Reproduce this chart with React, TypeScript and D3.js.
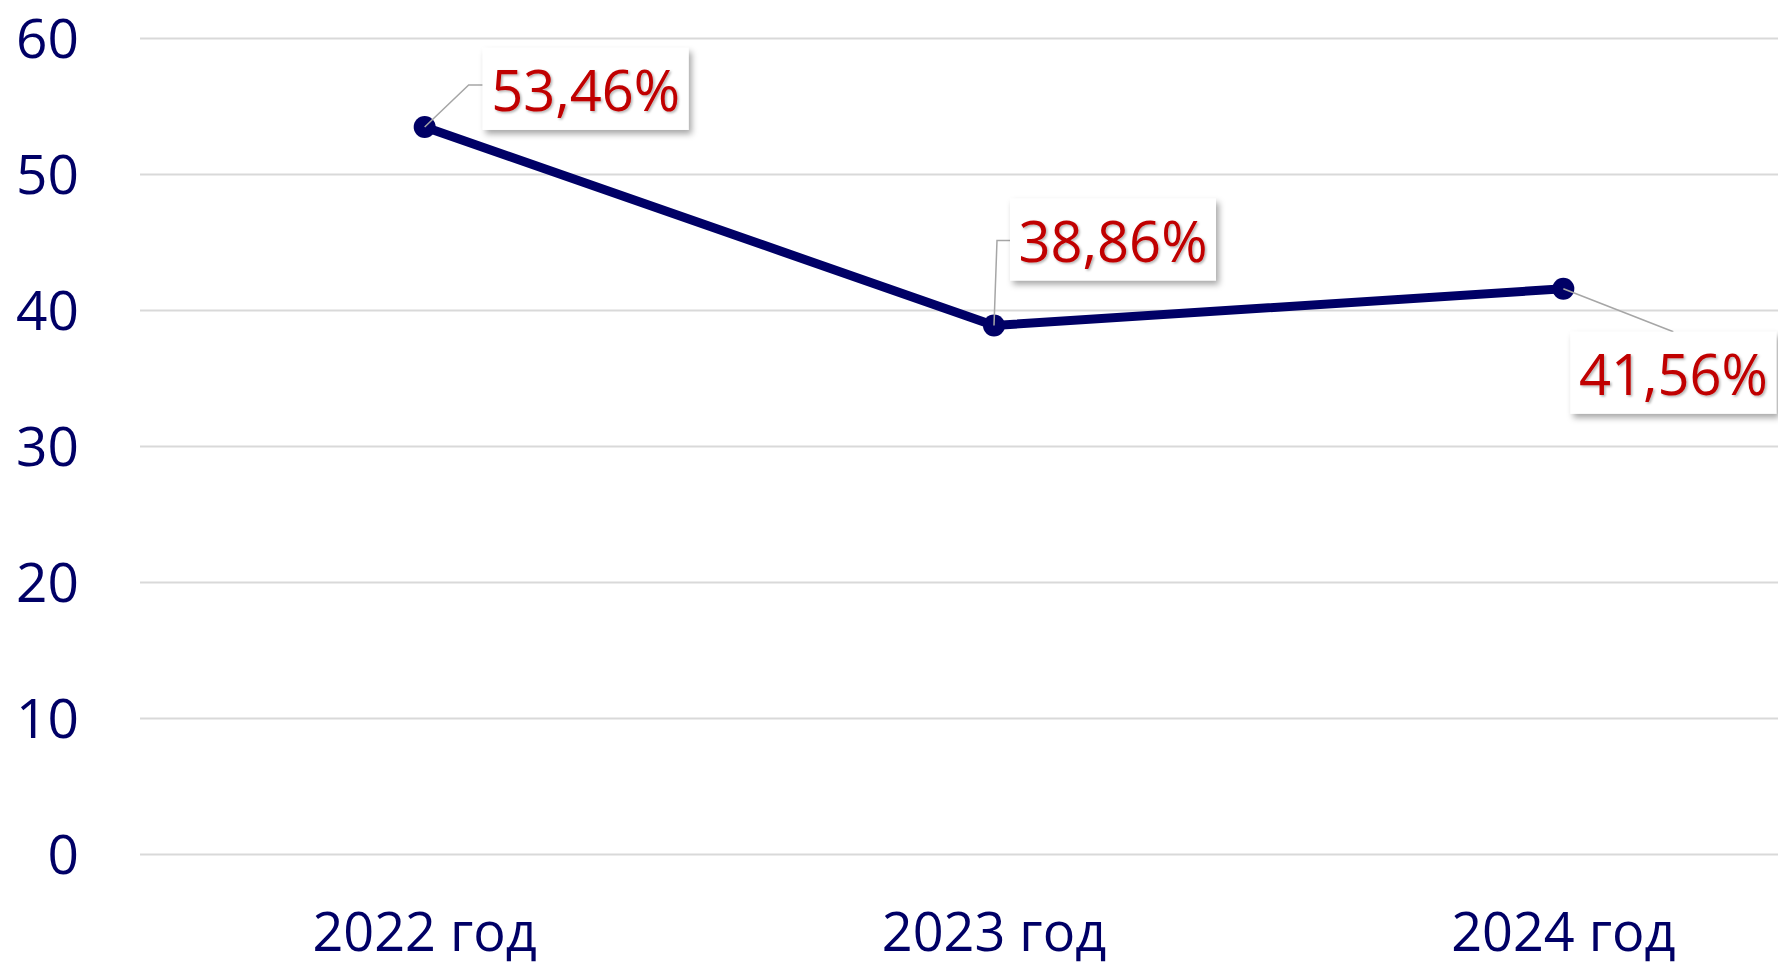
import React, { useRef, useEffect } from 'react'
import * as d3 from 'd3'

// chart data
const categories = ['2022 год', '2023 год', '2024 год']
const values = [53.46, 38.86, 41.56]
const valueLabels = ['53,46%', '38,86%', '41,56%']
const yTicks = [0, 10, 20, 30, 40, 50, 60]

// where each data label box sits relative to its point: [dx, dy]
const labelOffsets = [[58, -79], [16, -127], [7, 43]]

const W = 1778
const H = 968
const FONT = '"Open Sans", "Noto Sans", sans-serif'

export default function App() {
    const d3Container = useRef<SVGSVGElement>(null)

    useEffect(() => {
        const svg = d3.select(d3Container.current)

        // plot runs past the right edge of the picture, like the original
        const xscale = d3.scalePoint<string>()
            .domain(categories)
            .range([140, 1848])
            .padding(0.5)

        const yscale = d3.scaleLinear()
            .domain([0, 60])
            .range([854, 38])

        const defs = svg.append('defs')
        const shadow = defs.append('filter')
            .attr('id', 'boxShadow')
            .attr('x', '-20%').attr('y', '-20%')
            .attr('width', '140%').attr('height', '150%')
        shadow.append('feDropShadow')
            .attr('dx', 3).attr('dy', 4)
            .attr('stdDeviation', 3)
            .attr('flood-color', '#000')
            .attr('flood-opacity', 0.35)

        const textShadow = defs.append('filter').attr('id', 'textShadow')
        textShadow.append('feDropShadow')
            .attr('dx', 1.5).attr('dy', 1.5)
            .attr('stdDeviation', 1)
            .attr('flood-color', '#000')
            .attr('flood-opacity', 0.3)

        //gridlines + y labels
        const y_axis = d3.axisLeft(yscale)
            .tickValues(yTicks)
            .tickSize(-(W - 140))
            .tickPadding(61)
            .tickFormat(d3.format('d'))

        const gY = svg.append('g')
            .attr('transform', 'translate(140, 0)')
            .call(y_axis)

        gY.select('.domain').remove()
        gY.selectAll('.tick line')
            .attr('stroke', '#d9d9d9')
            .attr('stroke-width', 2)
        gY.selectAll('.tick text')
            .attr('fill', '#000066')
            .attr('font-family', FONT)
            .attr('font-size', 55)
            .attr('dy', '0.36em')

        //category labels
        svg.append('g')
            .selectAll('text')
            .data(categories)
            .enter()
            .append('text')
            .attr('x', d => xscale(d) as number)
            .attr('y', 951)
            .attr('text-anchor', 'middle')
            .attr('fill', '#000066')
            .attr('font-family', FONT)
            .attr('font-size', 54)
            .text(d => d)

        const points = categories.map((c, i) => ({
            x: xscale(c) as number,
            y: yscale(values[i]),
        }))

        //leader lines
        const leaders = [
            [[points[0].x, points[0].y], [points[0].x + 44, points[0].y - 42], [points[0].x + 58, points[0].y - 42]],
            [[points[1].x, points[1].y], [points[1].x + 3, points[1].y - 85], [points[1].x + 16, points[1].y - 85]],
            [[points[2].x, points[2].y], [points[2].x + 110, points[2].y + 43]],
        ]

        //series line
        const line = d3.line<{ x: number, y: number }>()
            .x(d => d.x)
            .y(d => d.y)

        svg.append('path')
            .datum(points)
            .attr('d', line)
            .attr('fill', 'none')
            .attr('stroke', '#000066')
            .attr('stroke-width', 9)
            .attr('stroke-linejoin', 'round')

        svg.append('g')
            .selectAll('circle')
            .data(points)
            .enter()
            .append('circle')
            .attr('cx', d => d.x)
            .attr('cy', d => d.y)
            .attr('r', 11)
            .attr('fill', '#000066')

        // leader lines sit on top of the markers
        svg.append('g')
            .selectAll('path')
            .data(leaders)
            .enter()
            .append('path')
            .attr('d', d => d3.line()(d as [number, number][]))
            .attr('fill', 'none')
            .attr('stroke', '#a6a6a6')
            .attr('stroke-width', 1.5)

        //data label boxes
        const boxW = 206
        const boxH = 82
        const labels = svg.append('g')
            .selectAll('g')
            .data(points)
            .enter()
            .append('g')
            .attr('transform', (d, i) => `translate(${d.x + labelOffsets[i][0]}, ${d.y + labelOffsets[i][1]})`)

        labels.append('rect')
            .attr('width', boxW)
            .attr('height', boxH)
            .attr('fill', '#fff')
            .attr('filter', 'url(#boxShadow)')

        labels.append('text')
            .attr('x', boxW / 2)
            .attr('y', 63)
            .attr('text-anchor', 'middle')
            .attr('fill', '#c00000')
            .attr('font-family', FONT)
            .attr('font-size', 56)
            .attr('filter', 'url(#textShadow)')
            .text((d, i) => valueLabels[i])

        return () => {
            svg.selectAll('*').remove()
        }
    }, [])

    return (
        <svg
            ref={d3Container}
            width={W}
            height={H}
            style={{ position: 'absolute', left: 0, top: 0, background: '#fff' }}
        />
    )
}
